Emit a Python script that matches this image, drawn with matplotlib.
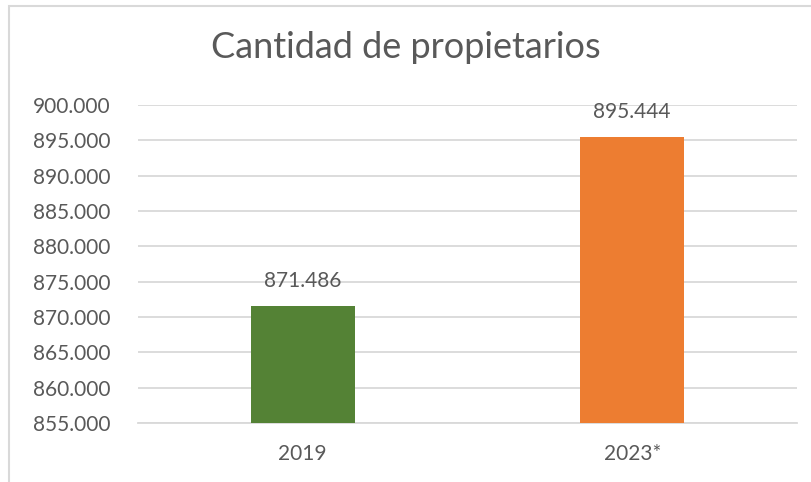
import matplotlib as mpl; mpl.use("Agg")
import matplotlib.pyplot as plt
from matplotlib.patches import Rectangle
from matplotlib.ticker import FuncFormatter

# Data
categories = ["2019", "2023*"]
values = [871486, 895444]
colors = ["#548235", "#ED7D31"]

TEXT = "#595959"
GRID = "#D9D9D9"

def fmt(v, pos=None):
    return f"{int(round(v)):,}".replace(",", ".")

plt.rcParams["font.family"] = ["Lato", "DejaVu Sans"]

fig = plt.figure(figsize=(8.12, 4.82), dpi=100)
ax = fig.add_axes([138/812, 1 - 423/482, 659/812, (423 - 105)/482])

x = range(len(categories))
bars = ax.bar(x, values, width=0.316, color=colors, zorder=3)

ax.set_xlim(-0.5, 1.5)
ax.set_ylim(855000, 900000)
ax.set_yticks(range(855000, 900001, 5000))
ax.yaxis.set_major_formatter(FuncFormatter(fmt))
ax.set_xticks(list(x))
ax.set_xticklabels(categories)

ax.grid(axis="y", color=GRID, linewidth=1.3, zorder=0)
for s in ["top", "right", "left"]:
    ax.spines[s].set_visible(False)
ax.spines["bottom"].set_color(GRID)
ax.spines["bottom"].set_linewidth(1.3)

ax.tick_params(axis="y", length=0, pad=20, labelsize=15, labelcolor=TEXT)
ax.tick_params(axis="x", length=0, pad=15, labelsize=15, labelcolor=TEXT)

for b, v in zip(bars, values):
    ax.annotate(fmt(v), (b.get_x() + b.get_width()/2, v),
                xytext=(0, 18), textcoords="offset points",
                ha="center", va="center", fontsize=15, color=TEXT)

fig.text(0.5, 1 - 48/482, "Cantidad de propietarios", ha="center", va="center",
         fontsize=26, color=TEXT)

# chart border (cut off at right and bottom)
fig.patches.append(Rectangle((9/812, -0.1), 1.0, (482 - 6)/482 + 0.1,
                             transform=fig.transFigure, fill=False,
                             edgecolor=GRID, linewidth=1.5))

fig.savefig("out.png", dpi=100)
